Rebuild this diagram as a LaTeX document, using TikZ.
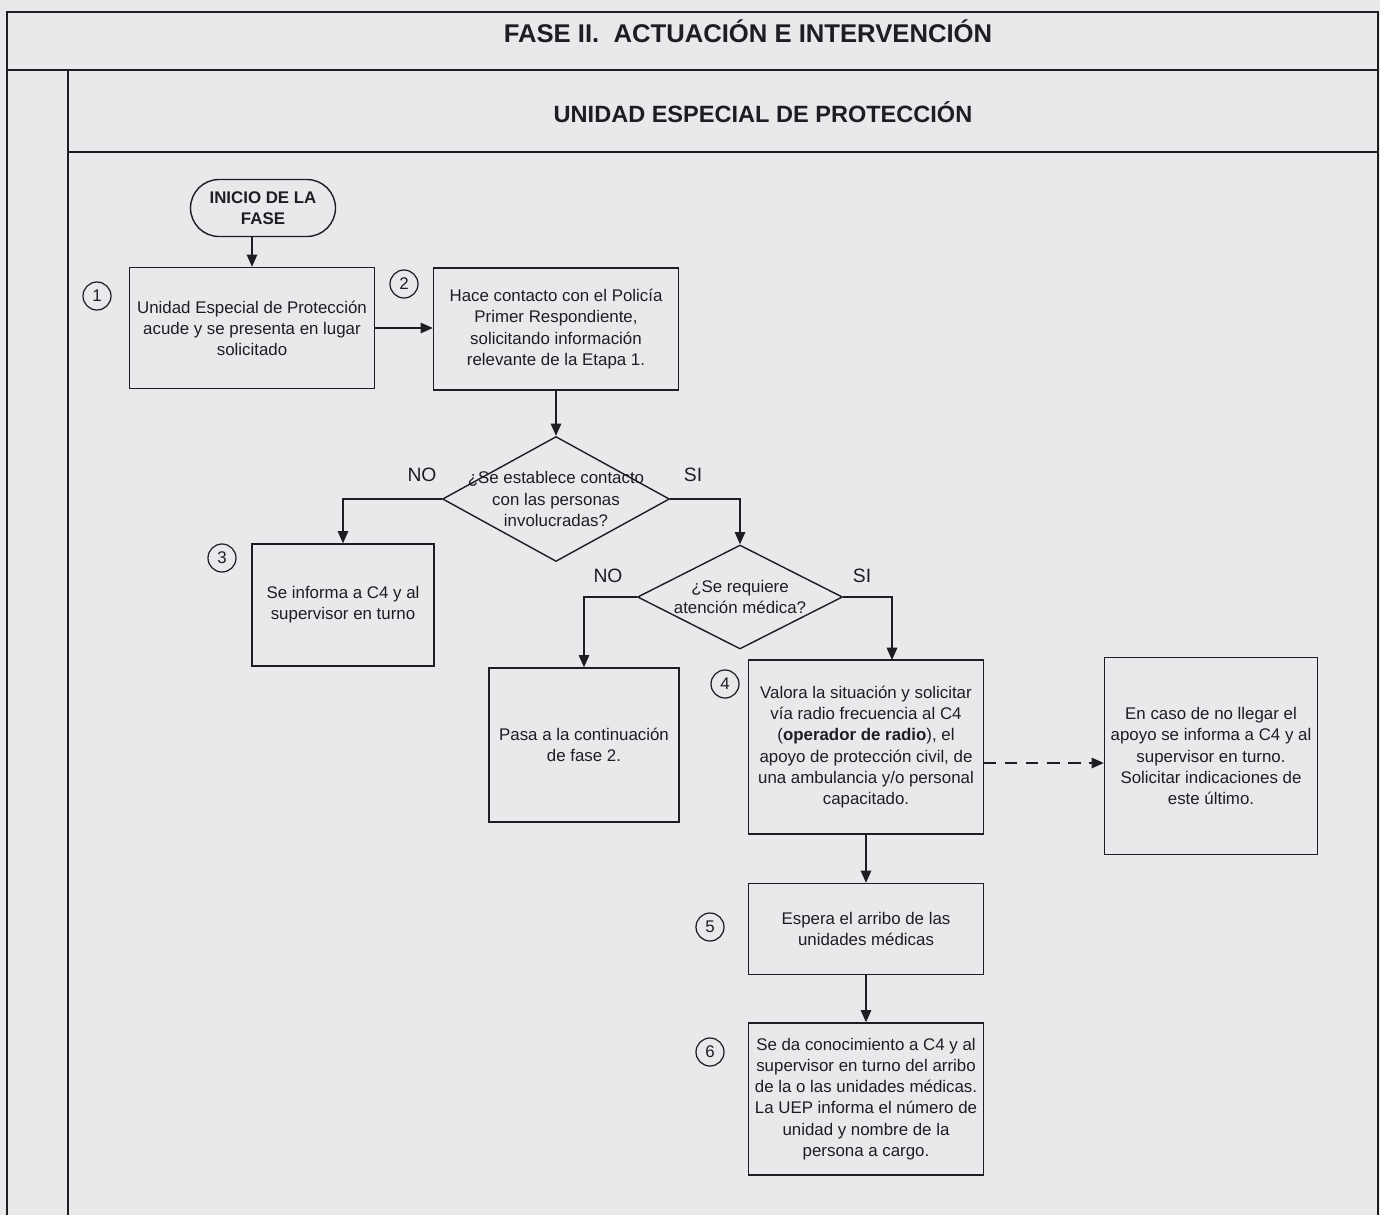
\documentclass[tikz,border=0pt]{standalone}
\usepackage{fontspec}
\setmainfont{Liberation Sans}
\usetikzlibrary{shapes.geometric,arrows.meta}
\definecolor{paper}{RGB}{233,233,236}
\definecolor{ink}{RGB}{30,30,34}
\tikzset{
  box/.style={draw=ink, line width=0.8pt, align=center, text=ink, inner sep=2pt,
    font=\fontsize{9.6}{12}\selectfont},
  decision/.style={draw=ink, line width=0.8pt, diamond, inner sep=0pt},
  num/.style={draw=ink, circle, line width=0.7pt, minimum size=0.56cm, inner sep=0pt,
    text=ink, font=\fontsize{9.6}{12}\selectfont},
  flow/.style={draw=ink, line width=0.8pt, -{Triangle[length=7pt,width=6pt]}},
  answer/.style={text=ink, font=\fontsize{11}{13}\selectfont},
}
\begin{document}
\begin{tikzpicture}[x=0.02cm, y=-0.02cm]
  \useasboundingbox (0,0) rectangle (1380,1215);
  \fill[paper] (0,0) rectangle (1380,1215);
  % frame
  \draw[ink, line width=1pt] (7,1215) -- (7,12) -- (1378,12) -- (1378,1215);
  \draw[ink, line width=1pt] (7,70) -- (1378,70);
  \draw[ink, line width=1pt] (68,70) -- (68,1215);
  \draw[ink, line width=1pt] (68,152) -- (1378,152);
  \node[text=ink, font=\fontsize{14.6}{17}\selectfont\bfseries] (fase) at (748,31) {FASE II.\ \ ACTUACIÓN E INTERVENCIÓN};
  \node[text=ink, font=\fontsize{13.4}{16}\selectfont\bfseries] (unidad) at (763,112) {UNIDAD ESPECIAL DE PROTECCIÓN};

  % nodes
  \node[box, rounded corners=0.57cm, minimum width=2.9cm, minimum height=1.14cm,
    font=\fontsize{9.6}{12}\selectfont\bfseries] (start) at (263,208) {INICIO DE LA\\FASE};
  \node[box, minimum width=4.9cm, minimum height=2.42cm] (b1) at (252,328)
    {Unidad Especial de Protección\\acude y se presenta en lugar\\solicitado};
  \node[box, minimum width=4.9cm, minimum height=2.44cm] (b2) at (556,329)
    {Hace contacto con el Policía\\Primer Respondiente,\\solicitando información\\relevante de la Etapa 1.};
  \node[decision, minimum width=4.54cm, minimum height=2.5cm,
    label={[align=center, text=ink, font=\fontsize{9.6}{12}\selectfont]center:{¿Se establece contacto\\con las personas\\involucradas?}}] (d1) at (556,499) {};
  \node[box, minimum width=3.64cm, minimum height=2.44cm] (b3) at (343,605)
    {Se informa a C4 y al\\supervisor en turno};
  \node[decision, minimum width=4.1cm, minimum height=2.08cm,
    label={[align=center, text=ink, font=\fontsize{9.6}{12}\selectfont]center:{¿Se requiere\\atención médica?}}] (d2) at (740,597) {};
  \node[box, minimum width=3.8cm, minimum height=3.08cm] (pasa) at (584,745)
    {Pasa a la continuación\\de fase 2.};
  \node[box, minimum width=4.7cm, minimum height=3.48cm] (b4) at (866,747)
    {Valora la situación y solicitar\\vía radio frecuencia al C4\\(\textbf{operador de radio}), el\\apoyo de protección civil, de\\una ambulancia y/o personal\\capacitado.};
  \node[box, minimum width=4.26cm, minimum height=3.94cm] (apoyo) at (1211,756)
    {En caso de no llegar el\\apoyo se informa a C4 y al\\supervisor en turno.\\Solicitar indicaciones de\\este último.};
  \node[box, minimum width=4.7cm, minimum height=1.82cm] (b5) at (866,929)
    {Espera el arribo de las\\unidades médicas};
  \node[box, minimum width=4.7cm, minimum height=3.04cm] (b6) at (866,1099)
    {Se da conocimiento a C4 y al\\supervisor en turno del arribo\\de la o las unidades médicas.\\La UEP informa el número de\\unidad y nombre de la\\persona a cargo.};

  % step numbers
  \node[num] (c1) at (97,296) {1};
  \node[num] (c2) at (404,284) {2};
  \node[num] (c3) at (222,558) {3};
  \node[num] (c4) at (725,684) {4};
  \node[num] (c5) at (710,927) {5};
  \node[num] (c6) at (710,1052) {6};

  % connectors
  \coordinate (s4) at (892,660);
  \coordinate (aviso) at (984,763);
  \draw[flow] (start.south -| b1.north) -- (b1.north);
  \draw[flow] (b1.east) -- (b1.east -| b2.west);
  \draw[flow] (b2.south) -- (d1.north);
  \draw[flow] (d1.west) -| (b3.north);
  \draw[flow] (d1.east) -| (d2.north);
  \draw[flow] (d2.west) -| (pasa.north);
  \draw[flow] (d2.east) -| (s4);
  \draw[flow] (b4.south) -- (b5.north);
  \draw[flow] (b5.south) -- (b6.north);
  \draw[flow, dashed, dash pattern=on 7pt off 5pt] (aviso) -- (aviso -| apoyo.west);
  \node[answer] (no1) at (422,475) {NO};
  \node[answer] (si1) at (693,475) {SI};
  \node[answer] (no2) at (608,576) {NO};
  \node[answer] (si2) at (862,576) {SI};
\end{tikzpicture}
\end{document}
